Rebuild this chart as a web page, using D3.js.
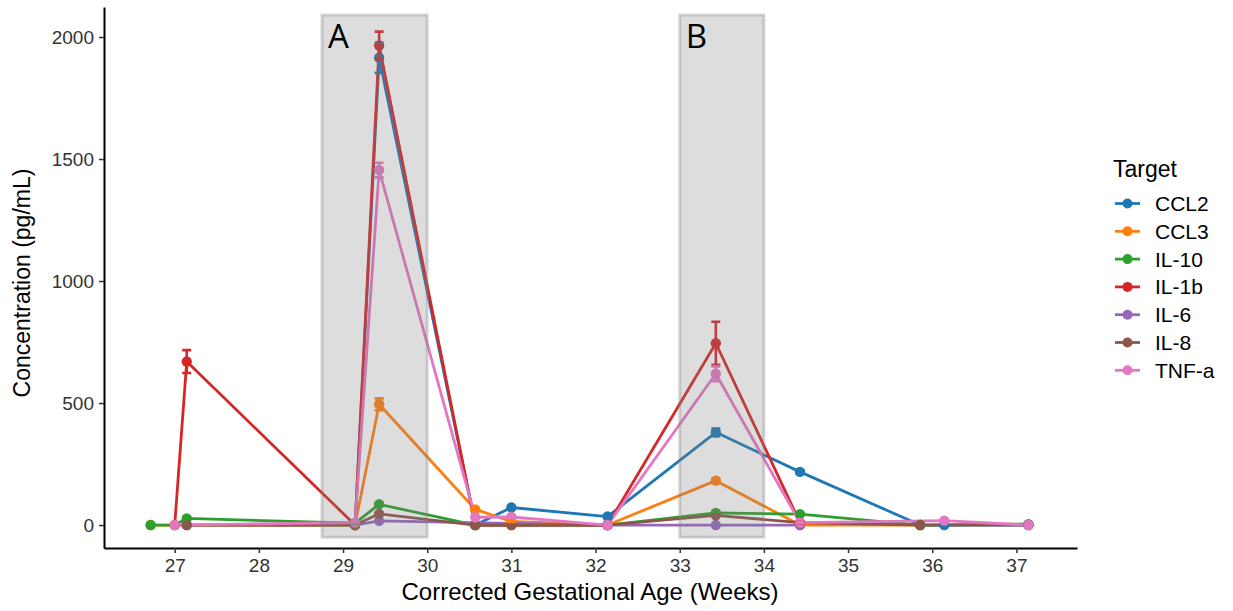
<!DOCTYPE html>
<html>
<head>
<meta charset="utf-8">
<script src="https://cdn.jsdelivr.net/npm/d3@7"></script>
<style>
  body { margin: 0; background: #fff; }
  svg text { font-family: "Liberation Sans", Arial, sans-serif; }
</style>
</head>
<body>
<div id="chart"></div>
<script>
// sampling times (corrected gestational age, weeks)
var weeks = [26.714, 27.0, 27.143, 29.143, 29.429, 30.571, 31.0, 32.143, 33.429, 34.429, 35.857, 36.143, 37.143];

// mean concentration per target (pg/mL), null = not measured
var ccl2 = [null, null, 0, 0, 1915, 0, 72, 35, 380, 218, 0, 0, 0];
var ccl3 = [0, null, null, 0, 495, 64, 15, 0, 182, 0, 0, null, null];
var il10 = [0, 0, 27, 8, 85, 0, null, 0, 50, 45, 0, null, 4];
var il1b = [null, 0, 670, 0, 1965, 0, 0, 0, 745, 10, null, null, null];
var il6 = [null, null, null, 0, 17, null, null, 0, 0, 0, null, null, null];
var il8 = [null, null, 0, 0, 46, 0, 0, 0, 40, 10, 0, null, 0];
var tnfa = [null, 0, null, 10, 1455, 32, 33, 0, 620, 10, null, 18, 0];

// standard errors
var ccl2Err = [null, null, 0, 0, 62, 0, 4, 3, 16, 6, 0, 0, 0];
var ccl3Err = [0, null, null, 0, 24, 5, 2, 0, 9, 0, 0, null, null];
var il10Err = [0, 0, 2, 1, 6, 0, null, 0, 4, 3, 0, null, 0];
var il1bErr = [null, 0, 47, 0, 57, 0, 0, 0, 88, 2, null, null, null];
var il6Err = [null, null, null, 0, 2, null, null, 0, 0, 0, null, null, null];
var il8Err = [null, null, 0, 0, 4, 0, 0, 0, 4, 1, 0, null, 0];
var tnfaErr = [null, 0, null, 1, 30, 3, 3, 0, 30, 1, null, 2, 0];

var targets = ["CCL2", "CCL3", "IL-10", "IL-1b", "IL-6", "IL-8", "TNF-a"];
var colors = ["#1f77b4", "#ff7f0e", "#2ca02c", "#d62728", "#9467bd", "#8c564b", "#e377c2"];

// shaded windows
var windowLabels = ["A", "B"];
var windowStart = [28.75, 33.0];
var windowEnd = [30.0, 34.0];

var xTicks = [27, 28, 29, 30, 31, 32, 33, 34, 35, 36, 37];
var yTicks = [0, 500, 1000, 1500, 2000];

var values = [ccl2, ccl3, il10, il1b, il6, il8, tnfa];
var errors = [ccl2Err, ccl3Err, il10Err, il1bErr, il6Err, il8Err, tnfaErr];

var series = targets.map(function(name, i) {
    var pts = [];
    weeks.forEach(function(w, j) {
        if (values[i][j] !== null) {
            pts.push({week: w, value: values[i][j], err: errors[i][j] || 0});
        }
    });
    return {name: name, color: colors[i], points: pts};
});

var width = 1233, height = 611;
var svg = d3.select("#chart").append("svg")
    .attr("width", width)
    .attr("height", height);

var x = d3.scaleLinear().domain([26.16, 37.72]).range([104, 1077]);
var y = d3.scaleLinear().domain([-94, 2123]).range([548, 7]);

var line = d3.line()
    .x(function(d) { return x(d.week); })
    .y(function(d) { return y(d.value); });

// lines
svg.append("g").selectAll("path")
    .data(series)
    .enter().append("path")
    .attr("fill", "none")
    .attr("stroke", function(d) { return d.color; })
    .attr("stroke-width", 2.8)
    .attr("stroke-linejoin", "round")
    .attr("d", function(d) { return line(d.points); });

// points
series.forEach(function(s) {
    svg.append("g").selectAll("circle")
        .data(s.points)
        .enter().append("circle")
        .attr("cx", function(d) { return x(d.week); })
        .attr("cy", function(d) { return y(d.value); })
        .attr("r", 5.2)
        .attr("fill", s.color);
});

// error bars
series.forEach(function(s) {
    var g = svg.append("g")
        .attr("stroke", s.color)
        .attr("stroke-width", 2.6)
        .attr("fill", "none");
    s.points.filter(function(d) { return d.err > 0; }).forEach(function(d) {
        var cx = x(d.week), y0 = y(d.value - d.err), y1 = y(d.value + d.err);
        g.append("path")
            .attr("d", "M" + (cx - 4.5) + "," + y1 + "H" + (cx + 4.5) +
                "M" + cx + "," + y1 + "V" + y0 +
                "M" + (cx - 4.5) + "," + y0 + "H" + (cx + 4.5));
    });
});

// shaded windows, drawn over the data
svg.append("g").selectAll("rect")
    .data(windowStart)
    .enter().append("rect")
    .attr("x", function(d) { return x(d); })
    .attr("width", function(d, i) { return x(windowEnd[i]) - x(d); })
    .attr("y", y(2090))
    .attr("height", y(-50) - y(2090))
    .attr("fill", "#808080")
    .attr("fill-opacity", 0.27)
    .attr("stroke", "#808080")
    .attr("stroke-opacity", 0.32)
    .attr("stroke-width", 3);

svg.append("g").selectAll("text")
    .data(windowLabels)
    .enter().append("text")
    .attr("x", function(d, i) { return x(windowStart[i]) + 6; })
    .attr("y", y(1957))
    .style("font-family", "'Open Sans', sans-serif")
    .style("font-size", "33px")
    .attr("fill", "#000")
    .text(function(d) { return d; });

// axes
var xAxis = svg.append("g")
    .attr("transform", "translate(0,548)")
    .call(d3.axisBottom(x).tickValues(xTicks).tickSize(5).tickSizeOuter(0).tickPadding(6));
var yAxis = svg.append("g")
    .attr("transform", "translate(104,0)")
    .call(d3.axisLeft(y).tickValues(yTicks).tickFormat(d3.format("d"))
        .tickSize(5).tickSizeOuter(0).tickPadding(5));

[xAxis, yAxis].forEach(function(a) {
    a.select(".domain").attr("stroke", "#000").attr("stroke-width", 2);
    a.selectAll(".tick line").attr("stroke", "#333").attr("stroke-width", 1.5);
    a.selectAll(".tick text")
        .attr("fill", "#333")
        .style("font-size", "19px")
        .style("font-family", "'Liberation Sans', Arial, sans-serif");
});

svg.append("text")
    .attr("x", 590)
    .attr("y", 600)
    .attr("text-anchor", "middle")
    .style("font-size", "24px")
    .attr("fill", "#000")
    .text("Corrected Gestational Age (Weeks)");

svg.append("text")
    .attr("transform", "translate(30,283) rotate(-90)")
    .attr("text-anchor", "middle")
    .style("font-size", "23px")
    .attr("fill", "#000")
    .text("Concentration (pg/mL)");

// legend
var legend = svg.append("g").attr("transform", "translate(1113,0)");
legend.append("text")
    .attr("x", 0)
    .attr("y", 177)
    .style("font-size", "23px")
    .attr("fill", "#000")
    .text("Target");

var item = legend.selectAll(".item")
    .data(series)
    .enter().append("g")
    .attr("class", "item")
    .attr("transform", function(d, i) { return "translate(0," + (203.5 + i * 27.8) + ")"; });
item.append("line")
    .attr("x1", 2).attr("x2", 27)
    .attr("stroke", function(d) { return d.color; })
    .attr("stroke-width", 2.8);
item.append("circle")
    .attr("cx", 14.5)
    .attr("r", 5)
    .attr("fill", function(d) { return d.color; });
item.append("text")
    .attr("x", 42)
    .attr("dy", "0.36em")
    .style("font-size", "21px")
    .attr("fill", "#000")
    .text(function(d) { return d.name; });
</script>
</body>
</html>
